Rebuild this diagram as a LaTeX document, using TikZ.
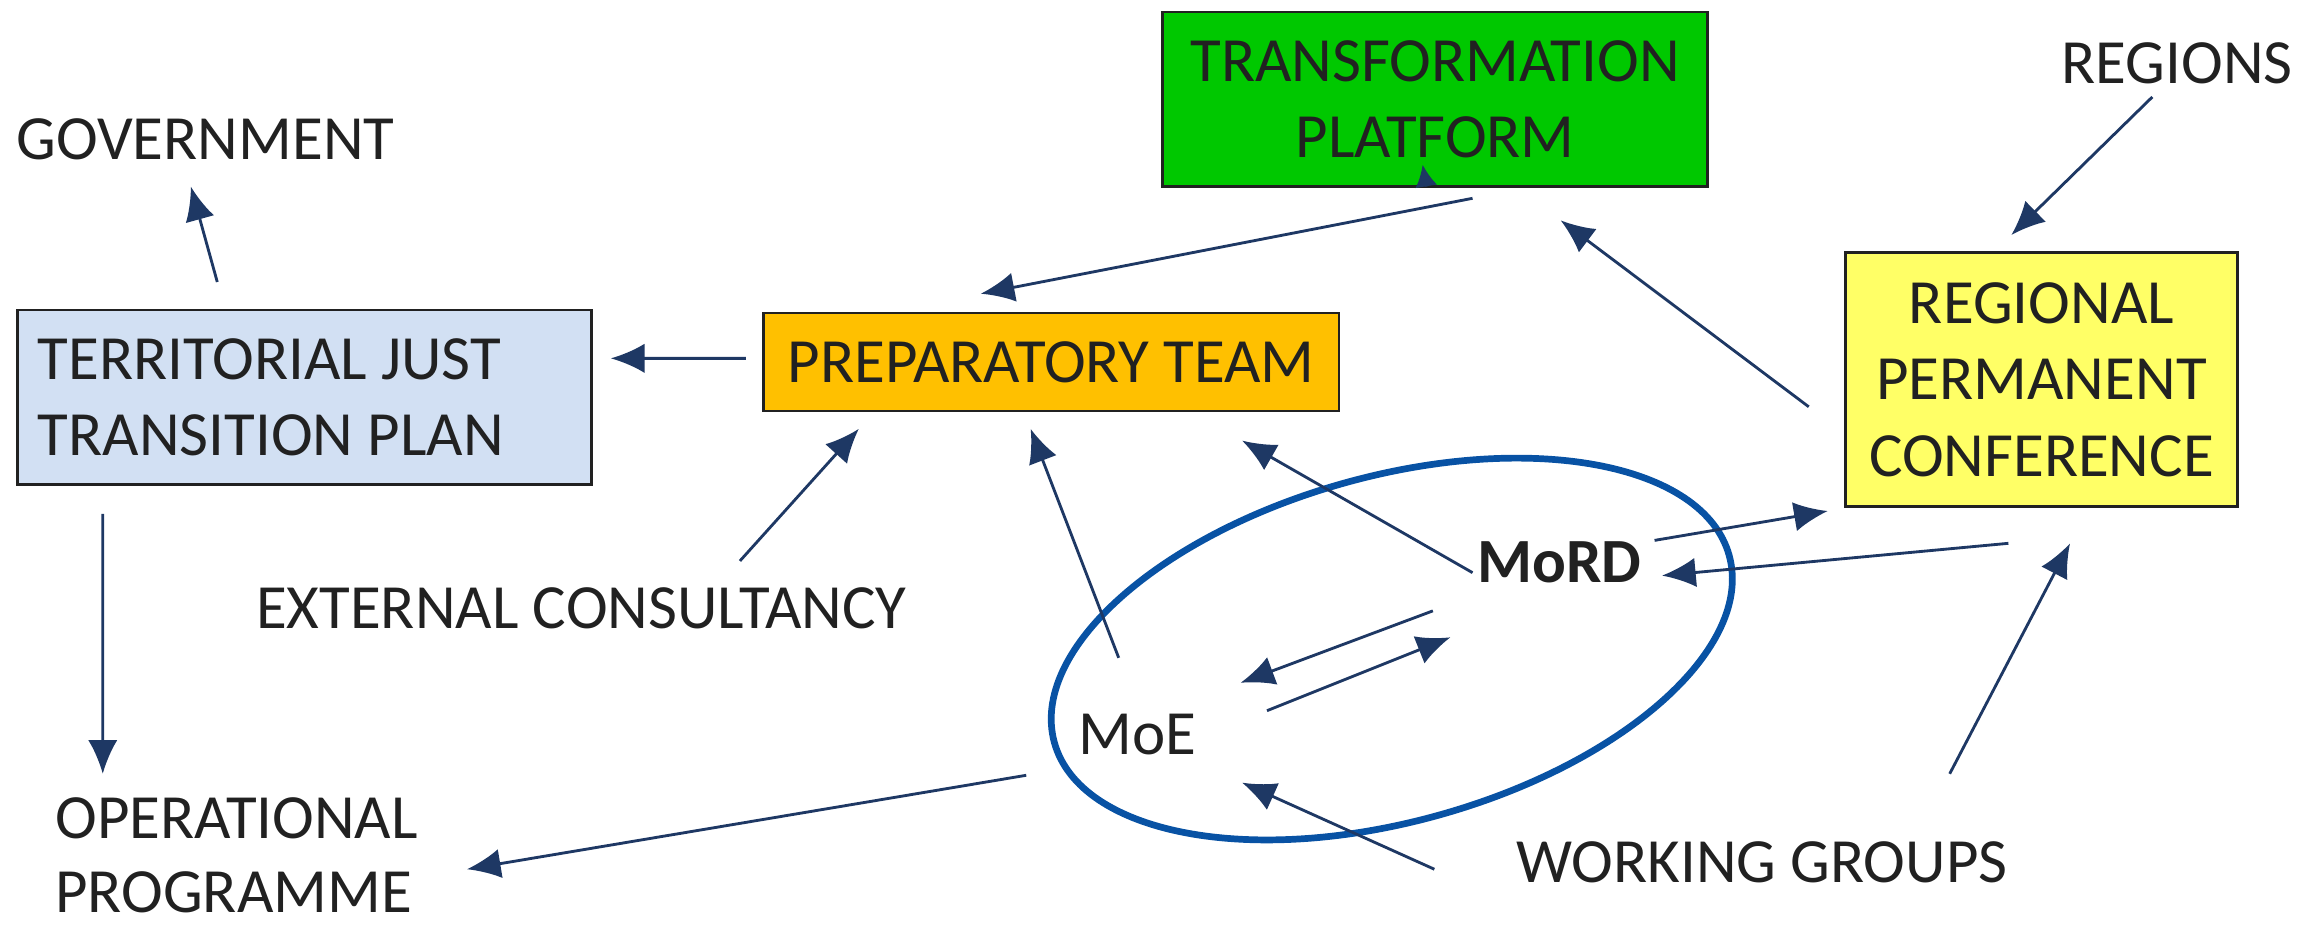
\documentclass[tikz,border=0pt]{standalone}
\usepackage{fontspec}
\setmainfont{Carlito}
\usetikzlibrary{arrows.meta}

\definecolor{tpgreen}{RGB}{0,200,0}
\definecolor{ptorange}{RGB}{255,192,0}
\definecolor{rpcyellow}{RGB}{255,255,102}
\definecolor{planblue}{RGB}{210,224,243}
\definecolor{arrownavy}{RGB}{30,56,100}
\definecolor{ringblue}{RGB}{8,82,164}
\definecolor{inkgray}{RGB}{33,33,33}

\tikzset{
  box/.style={draw=inkgray, line width=0.5pt, inner sep=0pt, align=center, text=inkgray},
  label/.style={inner sep=0pt, align=center, text=inkgray},
  flow/.style={-{Latex[length=2.3mm, width=2mm]}, arrownavy, line width=0.55pt}
}

\begin{document}
\begin{tikzpicture}[font=\fontsize{12.2}{14.8}\selectfont]
  \useasboundingbox (0, 0) rectangle (15.68, 6.341);

  \node[box, fill=tpgreen, minimum width=3.71cm, minimum height=1.19cm] (tp) at (9.775, 5.665) {TRANSFORMATION\\PLATFORM};
  \node[box, fill=ptorange, minimum width=3.92cm, minimum height=0.67cm] (pt) at (7.16, 3.875) {PREPARATORY TEAM};
  \node[box, fill=planblue, minimum width=3.91cm, minimum height=1.19cm] (tjtp) at (2.075, 3.635) {};
  \node[label, align=left, anchor=west] (tjtptext) at ([xshift=0.14cm]tjtp.west) {TERRITORIAL JUST\\TRANSITION PLAN};
  \node[box, fill=rpcyellow, minimum width=2.67cm, minimum height=1.73cm] (rpc) at (13.905, 3.755) {REGIONAL\\PERMANENT\\CONFERENCE};

  \node[label] (gov) at (1.40, 5.39) {GOVERNMENT};
  \node[label] (reg) at (14.83, 5.91) {REGIONS};
  \node[label] (ec) at (3.96, 2.20) {EXTERNAL CONSULTANCY};
  \node[label, align=left, anchor=south west, text depth=0pt, font=\fontsize{12.2}{14.3}\selectfont] (op) at (0.37, 0.12) {OPERATIONAL\\PROGRAMME};
  \node[label] (wg) at (12.00, 0.47) {WORKING GROUPS};
  \node[label] (moe) at (7.75, 1.34) {MoE};
  \node[label, font=\fontsize{12.2}{14.8}\selectfont\bfseries] (mord) at (10.62, 2.51) {MoRD};

  % ministries ring
  \draw[ringblue, line width=1.3pt, rotate around={15.5:(9.48, 1.92)}] (9.48, 1.92) ellipse (2.385 and 1.176);

  \draw[flow, -{Latex[length=1.5mm, width=1.5mm]}] ([shift={(-0.06,-0.595)}]tp.center) -- ([shift={(-0.085,-0.445)}]tp.center);
  \draw[flow] ([shift={(0.255,-0.675)}]tp.center) -- ([shift={(-0.48,0.465)}]pt.center);
  \draw[flow] ([shift={(-1.585,-0.185)}]rpc.center) -- ([shift={(0.855,-0.825)}]tp.center);
  \draw[flow] ([shift={(-0.17,-0.23)}]reg.center) -- ([shift={(-0.205,0.985)}]rpc.center);
  \draw[flow] ([shift={(-2.08,0.025)}]pt.center) -- ([shift={(2.085,0.265)}]tjtp.center);
  \draw[flow] ([shift={(-0.595,0.785)}]tjtp.center) -- ([shift={(-0.10,-0.32)}]gov.center);
  \draw[flow] ([shift={(-1.375,-0.795)}]tjtp.center) -- ([shift={(0.33,0.95)}]op.south west);
  \draw[flow] ([shift={(1.08,0.32)}]ec.center) -- ([shift={(-1.31,-0.455)}]pt.center);
  \draw[flow] ([shift={(-0.13,0.52)}]moe.center) -- ([shift={(-0.14,-0.455)}]pt.center);
  \draw[flow] ([shift={(-0.59,-0.07)}]mord.center) -- ([shift={(1.30,-0.535)}]pt.center);
  \draw[flow] ([shift={(0.65,0.15)}]mord.center) -- ([shift={(-1.455,-0.895)}]rpc.center);
  \draw[flow] ([shift={(-0.225,-1.115)}]rpc.center) -- ([shift={(0.70,-0.09)}]mord.center);
  \draw[flow] ([shift={(-0.86,-0.33)}]mord.center) -- ([shift={(0.70,0.35)}]moe.center);
  \draw[flow] ([shift={(0.88,0.16)}]moe.center) -- ([shift={(-0.74,-0.51)}]mord.center);
  \draw[flow] ([shift={(-0.76,-0.28)}]moe.center) -- ([shift={(2.81,0.30)}]op.south west);
  \draw[flow] ([shift={(-2.23,-0.05)}]wg.center) -- ([shift={(0.71,-0.33)}]moe.center);
  \draw[flow] ([shift={(1.28,0.60)}]wg.center) -- ([shift={(0.195,-1.115)}]rpc.center);
\end{tikzpicture}
\end{document}
